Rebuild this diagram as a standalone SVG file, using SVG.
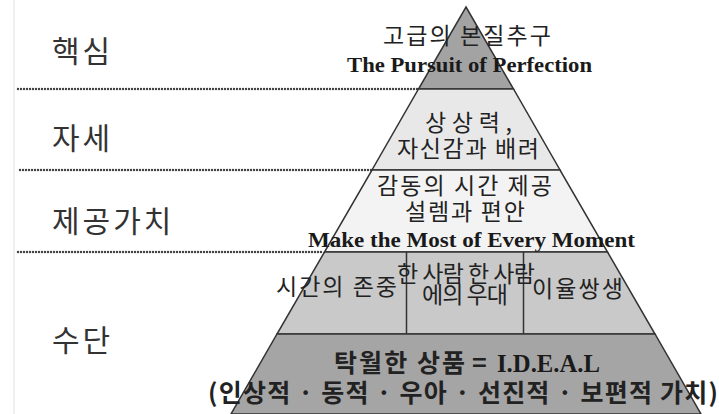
<svg xmlns="http://www.w3.org/2000/svg" width="719" height="414" viewBox="0 0 719 414">
<style>
.lbl{font-family:"Noto Sans CJK KR","Noto Sans",sans-serif;font-size:30px;fill:#333;letter-spacing:3px}
.kr{font-family:"Noto Sans CJK KR","Noto Sans",sans-serif;font-size:23px;fill:#222}
.krb{font-family:"Noto Sans CJK KR","Noto Sans",sans-serif;font-size:25px;font-weight:bold;fill:#222}
.en{font-family:"Liberation Serif","Times New Roman",serif;font-weight:bold;fill:#1a1a1a}
.dot{stroke:#444;stroke-width:2.4;stroke-linecap:round;stroke-dasharray:0 3;fill:none}
.sec{stroke:#333;stroke-width:1.5}
</style>
<rect width="719" height="414" fill="#fff"/>
<line x1="14" y1="0" x2="14" y2="414" stroke="#efefef" stroke-width="2"/>
<g id="connectors">
<line class="dot" x1="18" y1="89" x2="419" y2="89"/>
<line class="dot" x1="20" y1="170" x2="372" y2="170"/>
<line class="dot" x1="18" y1="252" x2="324" y2="252"/>
</g>
<g id="labels">
<text class="lbl" x="52" y="62">핵심</text>
<text class="lbl" x="52" y="149">자세</text>
<text class="lbl" x="52" y="232">제공가치</text>
<text class="lbl" x="52" y="351">수단</text>
</g>
<g id="core">
<polygon class="sec" points="466,7 513.5,89 418.5,89" fill="#a3a3a3"/>
<text class="kr" x="383" y="44" textLength="168" lengthAdjust="spacing">고급의 본질추구</text>
<text class="en" x="347" y="72" font-size="22" textLength="245" lengthAdjust="spacingAndGlyphs">The Pursuit of Perfection</text>
</g>
<g id="attitude">
<polygon class="sec" points="418.5,89 513.5,89 560,170 372,170" fill="#e8e8e8"/>
<text class="kr" x="425" y="131" textLength="87" lengthAdjust="spacing">상상력,</text>
<text class="kr" x="397" y="157" textLength="142" lengthAdjust="spacing">자신감과 배려</text>
</g>
<g id="value">
<polygon class="sec" points="372,170 560,170 607.5,252 324.5,252" fill="#f3f3f3"/>
<text class="kr" x="377" y="194" textLength="175" lengthAdjust="spacing">감동의 시간 제공</text>
<text class="kr" x="405" y="220" textLength="120" lengthAdjust="spacing">설렘과 편안</text>
<text class="en" x="308" y="247" font-size="21" textLength="327" lengthAdjust="spacingAndGlyphs">Make the Most of Every Moment</text>
</g>
<g id="means">
<polygon class="sec" points="324.5,252 607.5,252 655,334 277,334" fill="#c9c9c9"/>
<line class="sec" x1="406.5" y1="252" x2="406.5" y2="334"/>
<line class="sec" x1="523.5" y1="252" x2="523.5" y2="334"/>
<text class="kr" x="276" y="295" font-size="21" textLength="121" lengthAdjust="spacing">시간의 존중</text>
<text class="kr" x="397" y="282" font-size="21" textLength="138" lengthAdjust="spacing">한 사람 한 사람</text>
<text class="kr" x="422" y="303" font-size="21" textLength="86" lengthAdjust="spacing">에의 우대</text>
<text class="kr" x="532" y="297" font-size="21" textLength="91" lengthAdjust="spacing">이율쌍생</text>
</g>
<g id="product">
<polygon class="sec" points="277,334 655,334 701,414 231,414" fill="#a5a5a5"/>
<text class="krb" x="334" y="372" font-size="24" textLength="131" lengthAdjust="spacing">탁월한 상품</text>
<text class="krb" x="472" y="372" font-size="27">=</text>
<text class="en" x="497" y="372" font-size="25" textLength="103" lengthAdjust="spacingAndGlyphs">I.D.E.A.L</text>
<text class="krb" x="208" y="402" textLength="510" lengthAdjust="spacing">(인상적 · 동적 · 우아 · 선진적 · 보편적 가치)</text>
</g>
</svg>
